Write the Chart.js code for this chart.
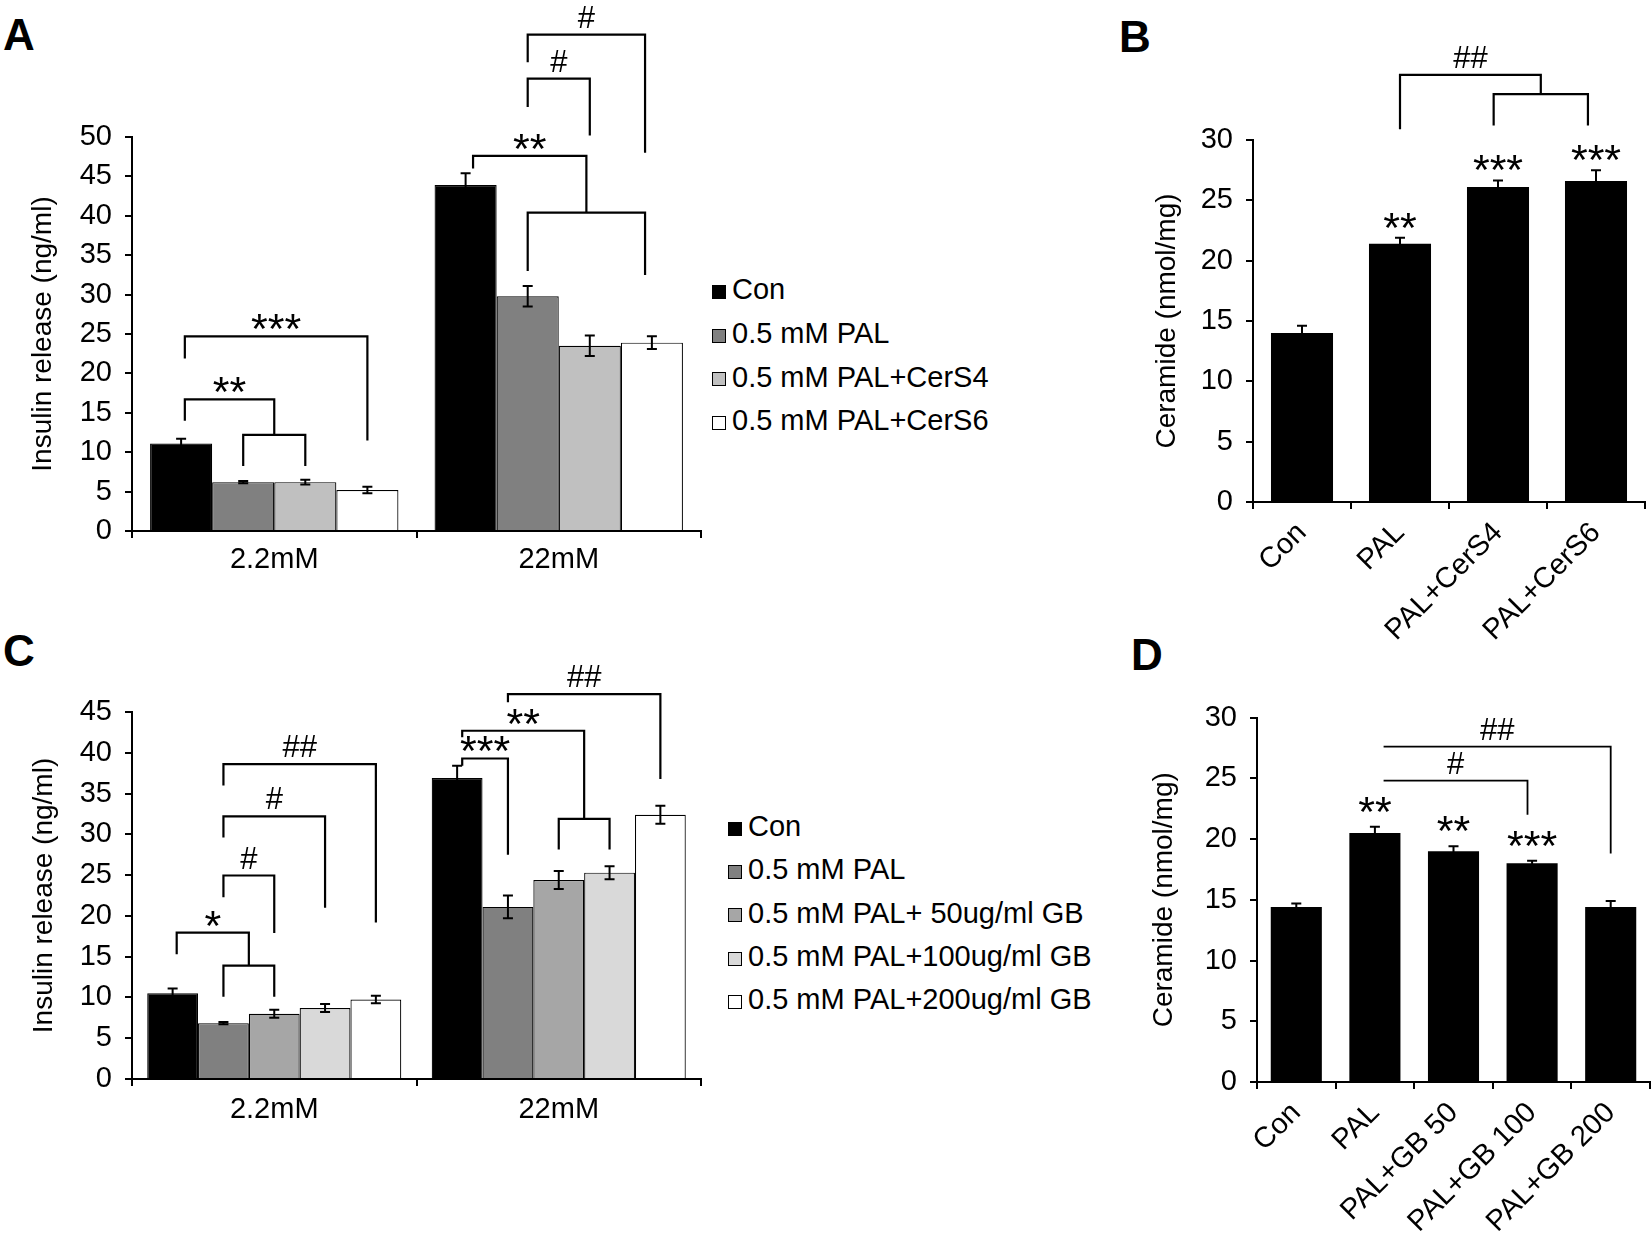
<!DOCTYPE html>
<html>
<head>
<meta charset="utf-8">
<script src="https://cdn.jsdelivr.net/npm/chart.js@4.4.1/dist/chart.umd.min.js"></script>
<style>
  html, body { margin: 0; padding: 0; background: #fff; }
  body { width: 1652px; height: 1237px; position: relative; overflow: hidden;
         font-family: 'Liberation Sans', Arial, Helvetica, sans-serif; color: #000; }
  canvas { position: absolute; }
  .tag { position: absolute; font-weight: bold; font-size: 44px; line-height: 1; }
  .legend { position: absolute; font-size: 29px; line-height: 1; }
  .legend div { display: flex; align-items: center; white-space: pre; }
  .legend .box { width: 14px; height: 14px; border: 1px solid #000; box-sizing: border-box;
                 margin-right: 6px; position: relative; top: 2px; }
</style>
</head>
<body>
<div class="tag" style="left:3px;top:13px">A</div>
<div class="tag" style="left:1119px;top:15px">B</div>
<div class="tag" style="left:3px;top:629px">C</div>
<div class="tag" style="left:1131px;top:633px">D</div>

<canvas id="cA" width="712" height="600" style="left:0;top:0"></canvas>
<canvas id="cB" width="542" height="660" style="left:1110px;top:0"></canvas>
<canvas id="cC" width="712" height="617" style="left:0;top:620px"></canvas>
<canvas id="cD" width="542" height="597" style="left:1110px;top:640px"></canvas>

<div class="legend" id="legA" style="left:712px;top:268px"></div>
<div class="legend" id="legC" style="left:728px;top:805px"></div>

<script>
Chart.defaults.font.family = "'Liberation Sans', Arial, Helvetica, sans-serif";
Chart.defaults.color = '#000';

const groups = ['2.2mM', '22mM'];

// A: insulin release, CerS4 / CerS6
const namesA = ['Con', '0.5 mM PAL', '0.5 mM PAL+CerS4', '0.5 mM PAL+CerS6'];
const meansA = [[11.1, 43.9], [6.2, 29.8], [6.2, 23.5], [5.2, 23.9]];
const semA = [[0.6, 1.5], [0.15, 1.3], [0.3, 1.3], [0.4, 0.8]];
// [text, from, to, top, left leg end, right leg end]; from/to = [series, group, shift] or a pair (midpoint)
const bracketsA = [
  ['***', [0, 0, 0.06], [3, 0], 24.7, 21.9, 11.5],
  ['', [1, 0], [2, 0], 12.2, 8.25, 8.25],
  ['**', [0, 0, 0.06], [[1, 0], [2, 0]], 16.7, 14.0, 12.2],
  ['', [1, 1], [3, 1, -0.11], 40.4, 33.0, 32.5],
  ['**', [0, 1, 0.12], [[1, 1], [3, 1, -0.11]], 47.6, 46.0, 40.4],
  ['#', [1, 1], [2, 1], 57.4, 53.8, 50.2],
  ['#', [1, 1], [3, 1, -0.11], 63.0, 59.5, 48.0]
];

// B: ceramide, CerS4 / CerS6
const catsB = ['Con', 'PAL', 'PAL+CerS4', 'PAL+CerS6'];
const meansB = [14.0, 21.4, 26.1, 26.6];
const semB = [0.6, 0.5, 0.55, 0.9];
const starsB = ['', '**', '***', '***'];
const bracketsB = [
  ['', [0, 2, -0.07], [0, 3, -0.13], 33.8, 31.2, 31.2],
  ['##', [0, 1], [[0, 2, -0.07], [0, 3, -0.13]], 35.4, 30.9, 33.8]
];

// C: insulin release, GB doses
const namesC = ['Con', '0.5 mM PAL', '0.5 mM PAL+ 50ug/ml GB', '0.5 mM PAL+100ug/ml GB', '0.5 mM PAL+200ug/ml GB'];
const meansC = [[10.5, 36.9], [6.85, 21.1], [8.0, 24.4], [8.7, 25.3], [9.75, 32.4]];
const semC = [[0.6, 1.5], [0.15, 1.4], [0.5, 1.1], [0.5, 0.8], [0.45, 1.1]];
const bracketsC = [
  ['', [1, 0], [2, 0], 13.9, 10.1, 10.1],
  ['*', [0, 0, 0.08], [[1, 0], [2, 0]], 17.96, 15.3, 13.9],
  ['#', [1, 0], [2, 0], 24.95, 22.3, 17.9],
  ['#', [1, 0], [3, 0], 32.2, 29.6, 21.0],
  ['##', [1, 0], [4, 0], 38.6, 36.0, 19.2],
  ['***', [0, 1, 0.1], [1, 1], 39.3, 38.4, 27.5],
  ['', [2, 1], [3, 1], 31.9, 28.15, 28.15],
  ['**', [0, 1, 0.1], [[2, 1], [3, 1]], 42.7, 41.9, 31.9],
  ['##', [1, 1], [4, 1], 47.2, 46.2, 36.8]
];

// D: ceramide, GB doses
const catsD = ['Con', 'PAL', 'PAL+GB 50', 'PAL+GB 100', 'PAL+GB 200'];
const meansD = [14.4, 20.5, 19.0, 18.0, 14.4];
const semD = [0.3, 0.5, 0.4, 0.2, 0.5];
const starsD = ['', '**', '**', '***', ''];
const bracketsD = [
  ['#', [0, 1, 0.17], [0, 3, -0.09], 24.8, null, 22.0],
  ['##', [0, 1, 0.17], [0, 4], 27.6, null, 18.8]
];

const fillsA = ['#000000', '#808080', '#c0c0c0', '#ffffff'];
const fillsC = ['#000000', '#808080', '#a6a6a6', '#d9d9d9', '#ffffff'];

function label(ctx, text, x, bottom) {
  ctx.font = (text.includes('*') ? '43px' : '31px') + " 'Liberation Sans', Arial, sans-serif";
  ctx.textAlign = 'center';
  ctx.textBaseline = 'alphabetic';
  const m = ctx.measureText(text);
  ctx.fillText(text, x, bottom - m.actualBoundingBoxDescent);
}

// error bars, stars over bars and significance brackets
function marks(brackets, opt) {
  return {
    id: 'marks',
    afterDatasetsDraw(chart) {
      const ctx = chart.ctx;
      const ys = chart.scales.y;
      const py = v => ys.getPixelForValue(v);
      const bar = (d, i) => chart.getDatasetMeta(d).data[i];
      const refX = r => Array.isArray(r[0])
        ? r.reduce((s, q) => s + refX(q), 0) / r.length
        : bar(r[0], r[1]).x + (r[2] || 0) * bar(r[0], r[1]).width;
      ctx.save();
      ctx.strokeStyle = '#000';
      ctx.fillStyle = '#000';
      chart.data.datasets.forEach((ds, d) => {
        ds.data.forEach((v, i) => {
          const el = bar(d, i);
          const t = py(v + ds.errors[i]), b = py(v - ds.errors[i]);
          ctx.lineWidth = 2;
          ctx.beginPath();
          ctx.moveTo(el.x, t); ctx.lineTo(el.x, b);
          ctx.moveTo(el.x - opt.cap, t); ctx.lineTo(el.x + opt.cap, t);
          ctx.moveTo(el.x - opt.cap, b); ctx.lineTo(el.x + opt.cap, b);
          ctx.stroke();
          if (ds.stars && ds.stars[i]) label(ctx, ds.stars[i], el.x, t - opt.starGap);
        });
      });
      ctx.lineWidth = opt.lw;
      brackets.forEach(([text, a, b, top, legA, legB]) => {
        const xa = refX(a), xb = refX(b), yt = py(top);
        ctx.beginPath();
        ctx.moveTo(xa, legA == null ? yt : py(legA));
        ctx.lineTo(xa, yt);
        ctx.lineTo(xb, yt);
        if (legB != null) ctx.lineTo(xb, py(legB));
        ctx.stroke();
        if (text) label(ctx, text, (xa + xb) / 2, yt - opt.textGap);
      });
      ctx.restore();
    }
  };
}

function scales(max, yWidth, xHeight, o) {
  const line = {color: '#000', width: 2};
  return {
    x: {
      grid: {drawOnChartArea: false, tickLength: 7, color: '#000', lineWidth: 2, offset: true},
      border: line,
      ticks: {font: {size: 29, lineHeight: 1}, padding: o.pad, autoSkip: false,
              maxRotation: o.rot, minRotation: o.rot},
      afterFit: s => { s.height = xHeight; }
    },
    y: {
      min: 0, max: max,
      grid: {drawOnChartArea: false, tickLength: 7, color: '#000', lineWidth: 2},
      border: line,
      ticks: {stepSize: 5, font: {size: 29}, padding: 13},
      title: {display: true, text: o.title, font: {size: 28}, padding: {top: 0, bottom: 0}},
      afterFit: s => { s.width = yWidth; }
    }
  };
}

function baseOptions(padding, sc) {
  return {
    responsive: false,
    animation: false,
    layout: {padding: padding},
    plugins: {legend: {display: false}, tooltip: {enabled: false}},
    scales: sc
  };
}

function grouped(names, means, sems, fills, catPct) {
  return names.map((n, s) => ({
    label: n, data: means[s], errors: sems[s],
    backgroundColor: fills[s], borderColor: '#000', borderWidth: 1.2,
    categoryPercentage: catPct, barPercentage: 1
  }));
}

function single(means, sems, stars, catPct) {
  return [{
    label: 'Ceramide', data: means, errors: sems, stars: stars,
    backgroundColor: '#000', borderColor: '#000', borderWidth: 0,
    categoryPercentage: catPct, barPercentage: 1
  }];
}

new Chart(document.getElementById('cA'), {
  type: 'bar',
  data: {labels: groups, datasets: grouped(namesA, meansA, semA, fillsA, 0.873)},
  options: baseOptions({left: 26, top: 137, right: 11, bottom: 0},
    scales(50, 106, 69, {pad: 7, rot: 0, title: 'Insulin release (ng/ml)'})),
  plugins: [marks(bracketsA, {cap: 5, starGap: 8, textGap: 7, lw: 2.2})]
});

new Chart(document.getElementById('cB'), {
  type: 'bar',
  data: {labels: catsB, datasets: single(meansB, semB, starsB, 0.633)},
  options: baseOptions({left: 40, top: 140, right: 7, bottom: 0},
    scales(30, 103, 158, {pad: 9, rot: 45, title: 'Ceramide (nmol/mg)'})),
  plugins: [marks(bracketsB, {cap: 5, starGap: 10, textGap: 7, lw: 2.2})]
});

new Chart(document.getElementById('cC'), {
  type: 'bar',
  data: {labels: groups, datasets: grouped(namesC, meansC, semC, fillsC, 0.893)},
  options: baseOptions({left: 27, top: 92, right: 11, bottom: 0},
    scales(45, 105, 158, {pad: 9, rot: 0, title: 'Insulin release (ng/ml)'})),
  plugins: [marks(bracketsC, {cap: 5, starGap: 8, textGap: 7, lw: 2.2})]
});

new Chart(document.getElementById('cD'), {
  type: 'bar',
  data: {labels: catsD, datasets: single(meansD, semD, starsD, 0.65)},
  options: baseOptions({left: 37, top: 77.5, right: 2, bottom: 0},
    scales(30, 110, 155, {pad: 9, rot: 45, title: 'Ceramide (nmol/mg)'})),
  plugins: [marks(bracketsD, {cap: 5, starGap: 15, textGap: 7, lw: 1.8})]
});

function legend(id, names, fills) {
  const el = document.getElementById(id);
  names.forEach((n, i) => {
    const row = document.createElement('div');
    row.style.height = (id === 'legA' ? 43.7 : 43.3) + 'px';
    const box = document.createElement('span');
    box.className = 'box';
    box.style.background = fills[i];
    row.appendChild(box);
    row.appendChild(document.createTextNode(n));
    el.appendChild(row);
  });
}
legend('legA', namesA, fillsA);
legend('legC', namesC, fillsC);
</script>
</body>
</html>
